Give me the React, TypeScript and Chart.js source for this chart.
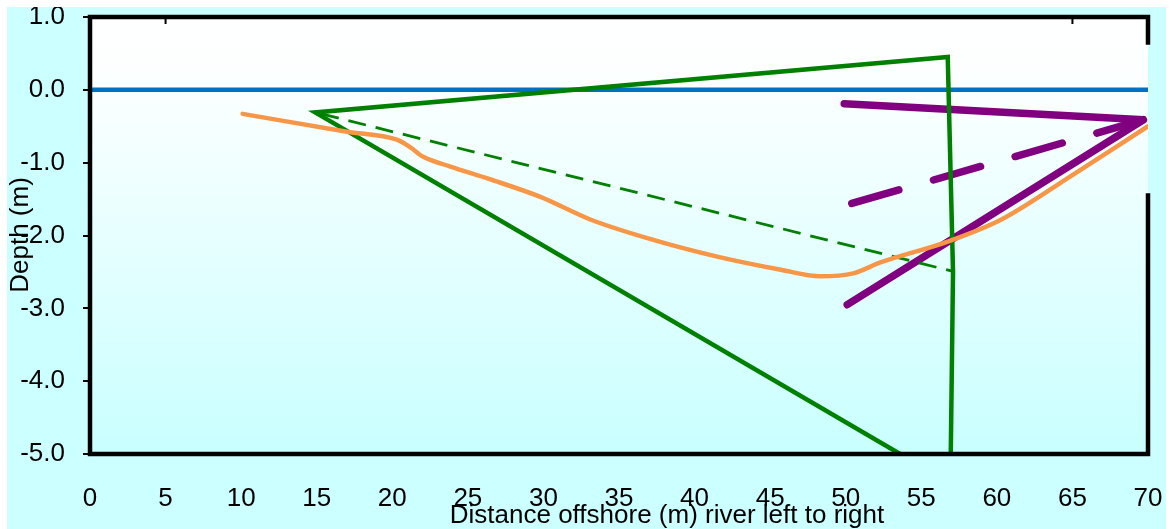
import React, { useEffect, useRef } from 'react';
import { Chart, registerables } from 'chart.js';

Chart.register(...registerables);

// Water surface
const waterX = [0, 70];
const waterY = [0, 0];

// Measured river bed profile (orange)
const bedX = [10.1, 17.0, 20.3, 21.2, 22.05, 23.8, 26.5, 29.8, 33.1, 37.1, 41.5, 45.7, 48.3, 50.5, 52.3, 56.8, 60.3, 65.0, 70.0];
const bedY = [-0.33, -0.575, -0.685, -0.79, -0.92, -1.05, -1.23, -1.47, -1.78, -2.05, -2.29, -2.47, -2.56, -2.52, -2.37, -2.08, -1.78, -1.17, -0.5];

// Green solid triangle
const greenX = [53.6, 14.9, 56.75, 57.1, 56.95];
const greenY = [-5.0, -0.31, 0.45, -2.5, -5.0];

// Green dashed line
const greenDashX = [15.3, 57.05];
const greenDashY = [-0.33, -2.49];

// Purple solid lines
const purpleX = [49.9, 69.7, 50.1];
const purpleY = [-0.19, -0.41, -2.95];

// Purple dashed line
const purpleDashX = [50.4, 69.7];
const purpleDashY = [-1.56, -0.41];

const xTicks = [0, 5, 10, 15, 20, 25, 30, 35, 40, 45, 50, 55, 60, 65, 70];
const yTicks = [1, 0, -1, -2, -3, -4, -5];

const xTitle = 'Distance offshore (m) river left to right';
const yTitle = 'Depth (m)';

const FONT = 'Liberation Sans, Arial, sans-serif';

const pts = (xs: number[], ys: number[]) => xs.map((x, i) => ({ x, y: ys[i] }));

const framePlugin = {
  id: 'frame',
  beforeDatasetsDraw(chart: any) {
    const { ctx, chartArea: a } = chart;
    const g = ctx.createLinearGradient(0, a.top, 0, a.bottom);
    g.addColorStop(0, '#ffffff');
    g.addColorStop(0.15, '#fcffff');
    g.addColorStop(1, '#c9ffff');
    ctx.save();
    ctx.fillStyle = g;
    ctx.fillRect(a.left, a.top, a.right - a.left, a.bottom - a.top);
    ctx.restore();
  },
  afterDatasetsDraw(chart: any) {
    const { ctx, chartArea: a, scales } = chart;
    const yS = scales.y;
    const xS = scales.x;
    ctx.save();
    ctx.strokeStyle = '#000000';
    ctx.lineWidth = 4.5;
    ctx.lineCap = 'square';
    ctx.beginPath();
    ctx.moveTo(a.left, a.bottom);
    ctx.lineTo(a.left, a.top);
    ctx.lineTo(a.right, a.top);
    ctx.lineTo(a.right, yS.getPixelForValue(0.65));
    ctx.moveTo(a.right, yS.getPixelForValue(-1.45));
    ctx.lineTo(a.right, a.bottom);
    ctx.lineTo(a.left, a.bottom);
    ctx.stroke();
    ctx.lineWidth = 2;
    ctx.lineCap = 'butt';
    [5, 65].forEach((v) => {
      const px = xS.getPixelForValue(v);
      ctx.beginPath();
      ctx.moveTo(px, a.top);
      ctx.lineTo(px, a.top + 7);
      ctx.stroke();
    });
    ctx.restore();
  },
  afterDraw(chart: any) {
    const { ctx } = chart;
    ctx.save();
    ctx.fillStyle = '#000000';
    ctx.font = `26px ${FONT}`;
    ctx.textAlign = 'center';
    ctx.textBaseline = 'alphabetic';
    ctx.fillText(xTitle, 660, 516);
    ctx.translate(21, 228);
    ctx.rotate(-Math.PI / 2);
    ctx.fillText(yTitle, 0, 0);
    ctx.restore();
  },
};

export default function App() {
  const ref = useRef<HTMLCanvasElement | null>(null);

  useEffect(() => {
    if (!ref.current) return;
    const chart = new Chart(ref.current, {
      type: 'scatter',
      data: {
        datasets: [
          {
            data: pts(bedX, bedY),
            showLine: true,
            borderColor: '#f79646',
            borderWidth: 4.5,
            cubicInterpolationMode: 'monotone',
            pointRadius: 0,
            borderCapStyle: 'round',
          },
          {
            data: pts(greenX, greenY),
            showLine: true,
            borderColor: '#008000',
            borderWidth: 4.5,
            pointRadius: 0,
            borderJoinStyle: 'miter',
          },
          {
            data: pts(greenDashX, greenDashY),
            showLine: true,
            borderColor: '#008000',
            borderWidth: 2.8,
            borderDash: [18, 10],
            pointRadius: 0,
          },
          {
            data: pts(purpleX, purpleY),
            showLine: true,
            borderColor: '#800080',
            borderWidth: 7.5,
            pointRadius: 0,
            borderCapStyle: 'round',
            borderJoinStyle: 'bevel',
          },
          {
            data: pts(purpleDashX, purpleDashY),
            showLine: true,
            borderColor: '#800080',
            borderWidth: 7.5,
            borderDash: [49, 36],
            pointRadius: 0,
            borderCapStyle: 'round',
          },
          {
            data: pts(waterX, waterY),
            showLine: true,
            borderColor: '#0070c0',
            borderWidth: 4.5,
            pointRadius: 0,
          },
        ],
      } as any,
      options: {
        animation: false,
        responsive: false,
        devicePixelRatio: 1,
        layout: { padding: { top: 10, right: 18, left: 0, bottom: 0 } },
        plugins: { legend: { display: false }, tooltip: { enabled: false } },
        scales: {
          x: {
            type: 'linear',
            min: 0,
            max: 70,
            afterBuildTicks: (s: any) => {
              s.ticks = xTicks.map((v) => ({ value: v }));
            },
            afterFit: (s: any) => {
              s.height = 75;
              s.paddingLeft = 0;
              s.paddingRight = 0;
            },
            border: { display: false },
            grid: { display: false },
            ticks: {
              padding: 21,
              color: '#000000',
              font: { family: FONT, size: 26 },
              maxRotation: 0,
              autoSkip: false,
              callback: (v: any) => String(v),
            },
          },
          y: {
            type: 'linear',
            min: -5,
            max: 1,
            afterBuildTicks: (s: any) => {
              s.ticks = yTicks.map((v) => ({ value: v }));
            },
            afterFit: (s: any) => {
              s.width = 83;
              s.paddingTop = 0;
              s.paddingBottom = 0;
            },
            border: { display: false },
            grid: {
              drawOnChartArea: false,
              drawTicks: true,
              tickLength: 7,
              tickColor: '#000000',
              lineWidth: 2,
              color: '#000000',
            },
            ticks: {
              padding: 18,
              color: '#000000',
              font: { family: FONT, size: 26 },
              autoSkip: false,
              callback: (v: any) => Number(v).toFixed(1),
            },
          },
        },
      } as any,
      plugins: [framePlugin],
    });
    return () => chart.destroy();
  }, []);

  return (
    <div style={{ position: 'fixed', left: 0, top: 0, width: 1172, height: 529, background: '#ffffff' }}>
      <div style={{ position: 'absolute', left: 7, top: 7, width: 1159, height: 522, background: '#ccffff' }}>
        <canvas ref={ref} width={1159} height={522} style={{ display: 'block', width: 1159, height: 522 }} />
      </div>
    </div>
  );
}
